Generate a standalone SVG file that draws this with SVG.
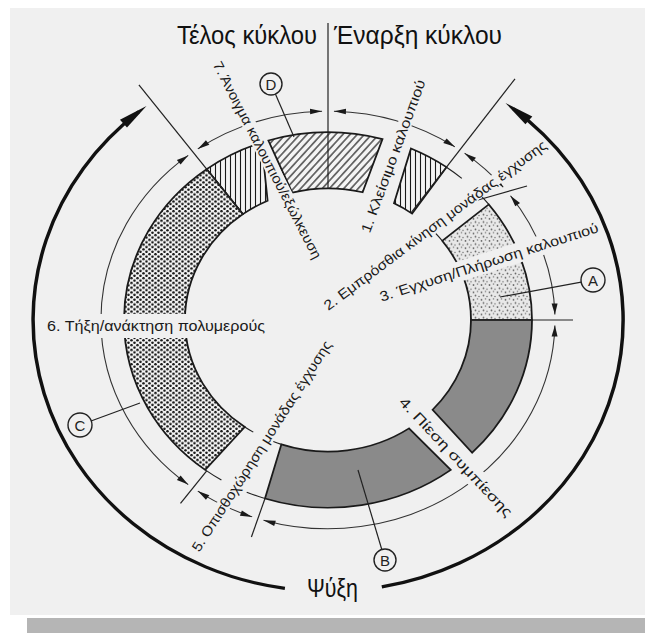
<svg xmlns="http://www.w3.org/2000/svg" width="645" height="633" viewBox="0 0 645 633">
<style>
.seg{stroke:#1a1a1a;stroke-width:1.8;stroke-linejoin:miter}
.ln{stroke:#222;fill:none;stroke-width:1.2}
.thin{stroke:#333;fill:none;stroke-width:1.1}
.thick{stroke:#111;fill:none;stroke-width:3.5}
.bg{fill:#f0f0f0}
.lbl{font-family:"Liberation Sans Narrow","Liberation Sans",Arial,sans-serif;font-size:14px;fill:#1a1a1a}
.ttl{font-family:"Liberation Sans Narrow","Liberation Sans",Arial,sans-serif;font-size:26px;fill:#111}
.circ{fill:#f0f0f0;stroke:#222;stroke-width:1.4}
.let{font-family:"Liberation Sans",Arial,sans-serif;font-size:15px;fill:#222;text-anchor:middle}
</style>
<defs>
<pattern id="diag" width="5.5" height="5.5" patternUnits="userSpaceOnUse" patternTransform="rotate(40)"><rect width="5.5" height="5.5" fill="#f4f4f4"/><line x1="2.75" y1="0" x2="2.75" y2="5.5" stroke="#1a1a1a" stroke-width="1.2"/></pattern>
<pattern id="vert" width="5" height="5" patternUnits="userSpaceOnUse"><rect width="5" height="5" fill="#f4f4f4"/><line x1="2.5" y1="0" x2="2.5" y2="5" stroke="#1a1a1a" stroke-width="1.1"/></pattern>
<pattern id="dkdots" width="6" height="5.2" patternUnits="userSpaceOnUse"><rect width="6" height="5.2" fill="#f4f4f4"/><circle cx="1.5" cy="1.3" r="1.35" fill="#1a1a1a"/><circle cx="4.5" cy="3.9" r="1.35" fill="#1a1a1a"/></pattern>
<pattern id="ltdots" width="8" height="8" patternUnits="userSpaceOnUse"><rect width="8" height="8" fill="#e8e8e8"/><circle cx="1.5" cy="2" r="0.9" fill="#666"/><circle cx="5.5" cy="1" r="0.8" fill="#777"/><circle cx="3.5" cy="5.5" r="0.9" fill="#666"/><circle cx="7" cy="6.5" r="0.8" fill="#777"/></pattern>
<marker id="bigArrow" markerUnits="userSpaceOnUse" markerWidth="40" markerHeight="16" refX="20" refY="0" orient="auto" overflow="visible"><path d="M0,-5.5 L30,0 L0,5.5 Z" fill="#111"/></marker>
<marker id="dimArrow" markerUnits="userSpaceOnUse" markerWidth="14" markerHeight="8" refX="12" refY="0" orient="auto-start-reverse" overflow="visible"><path d="M0,-3 L12,0 L0,3 Z" fill="#1a1a1a"/></marker>
</defs>

<rect width="645" height="633" fill="#ffffff"/>
<rect x="10" y="8" width="635" height="607" fill="#f0f0f0"/>
<rect x="27" y="618" width="618" height="15" fill="#b5b5b5"/>

<g id="ring" transform="translate(328,320) scale(1,0.92)">
  <g id="seg-7a"><path class="seg" fill="url(#vert)" d="M -121.3,-164.0 A 204 204 0 0 1 -66.4,-192.9 L -60.4,-129.6 A 143 143 0 0 0 -85.1,-115.0 Z"/></g>
  <g id="seg-D"><path class="seg" fill="url(#diag)" d="M -59.6,-195.1 A 204 204 0 0 1 54.5,-196.6 L 34.6,-138.8 A 143 143 0 0 0 -35.8,-138.4 Z"/></g>
  <g id="seg-1"><path class="seg" fill="url(#vert)" d="M 83.0,-186.4 A 204 204 0 0 1 118.5,-166.1 L 84.1,-115.7 A 143 143 0 0 0 66.0,-126.8 Z"/></g>
  <g id="seg-3"><path class="seg" fill="url(#ltdots)" d="M 160.8,-125.6 A 204 204 0 0 1 204,0 L 143,0 A 143 143 0 0 0 114.2,-86.1 Z"/></g>
  <g id="seg-4">
    <path class="seg" fill="#8a8a8a" d="M 204,0 A 204 204 0 0 1 144.2,144.2 L 104.6,97.5 A 143 143 0 0 0 143,0 Z"/>
    <path class="seg" fill="#8a8a8a" d="M 122.8,162.9 A 204 204 0 0 1 -63.0,194.0 L -46.6,135.2 A 143 143 0 0 0 81.0,117.8 Z"/>
  </g>
  <g id="seg-6"><path class="seg" fill="url(#dkdots)" d="M -122.8,162.9 A 204 204 0 0 1 -121.3,-164.0 L -85.1,-115.0 A 143 143 0 0 0 -83.2,116.3 Z"/></g>
</g>

<g id="connectors" transform="translate(328,320) scale(1,0.92)">
  <path class="ln" d="M -85.1,-115.0 L -189.1,-255.6"/>
  <path class="ln" d="M 0,-143 L 0,-322.8"/>
  <path class="ln" d="M 83.0,-116.4 L 187.0,-262.1"/>
  <path class="ln" d="M 150,-130.4 L 199,-145.7"/>
  <path class="ln" d="M 143,0 L 245,0"/>
  <path class="ln" d="M -63.0,194.0 L -76.6,235.9"/>
  <path class="ln" d="M -121.3,164.0 L -147.5,199.4"/>
  <path class="ln" d="M 118.5,-166.1 A 204 204 0 0 1 133.8,-154.0"/>
  <path class="ln" d="M 151.6,-136.5 A 204 204 0 0 1 160.8,-125.6"/>
  <path class="ln" d="M 107.9,-93.8 A 143 143 0 0 1 114.2,-86.1"/>
  <path class="ln" d="M -63.0,194.0 A 204 204 0 0 1 -81.3,187.1"/>
  <path class="ln" d="M -46.6,135.2 A 143 143 0 0 1 -54.7,132.1"/>
  <path class="ln" d="M -106.6,173.9 A 204 204 0 0 1 -122.8,162.9"/>
  <path class="ln" d="M -74.7,121.9 A 143 143 0 0 1 -83.2,116.3"/>
  <path class="thin" marker-start="url(#dimArrow)" marker-end="url(#dimArrow)" d="M -130.2,-186.0 A 227 227 0 0 1 -5.94,-226.9"/>
  <path class="thin" marker-start="url(#dimArrow)" marker-end="url(#dimArrow)" d="M 5.94,-226.9 A 227 227 0 0 1 126.9,-188.2"/>
  <path class="thin" marker-start="url(#dimArrow)" marker-end="url(#dimArrow)" d="M 136.6,-181.3 A 227 227 0 0 1 175.2,-144.4"/>
  <path class="thin" marker-start="url(#dimArrow)" marker-end="url(#dimArrow)" d="M 182.5,-135.0 A 227 227 0 0 1 226.9,-5.94"/>
  <path class="thin" marker-start="url(#dimArrow)" marker-end="url(#dimArrow)" d="M 226.9,5.94 A 227 227 0 0 1 -64.5,217.6"/>
  <path class="thin" marker-start="url(#dimArrow)" marker-end="url(#dimArrow)" d="M -75.8,214.0 A 227 227 0 0 1 -130.2,186.0"/>
  <path class="thin" marker-start="url(#dimArrow)" marker-end="url(#dimArrow)" d="M -139.8,178.9 A 227 227 0 0 1 -139.8,-178.9"/>
  <path class="thick" marker-end="url(#bigArrow)" d="M -43.1,291.8 A 295 295 0 0 1 -189.2,-226.3"/>
  <path class="thick" marker-end="url(#bigArrow)" d="M 53.8,290.1 A 295 295 0 0 0 185.3,-229.6"/>
</g>

<g id="label-7" transform="translate(267.5,160) rotate(62.7)"><rect class="bg" x="-112" y="-7" width="224" height="14"/><text class="lbl" x="-110" y="0" dominant-baseline="central" textLength="220" lengthAdjust="spacingAndGlyphs">7. Άνοιγμα καλουπιού/εξώλκευση</text></g>
<g id="label-1" transform="translate(393,156) rotate(-69.8)"><rect class="bg" x="-83" y="-7" width="166" height="14"/><text class="lbl" x="-81" y="0" dominant-baseline="central" textLength="162" lengthAdjust="spacingAndGlyphs">1. Κλείσιμο καλουπιού</text></g>
<g id="label-2" transform="translate(435,225) rotate(-36.7)"><rect class="bg" x="-139" y="-6" width="278" height="12"/><text class="lbl" x="-137" y="0" dominant-baseline="central" textLength="274" lengthAdjust="spacingAndGlyphs">2. Εμπρόσθια κίνηση μονάδας έγχυσης</text></g>
<g id="label-3" transform="translate(489,262) rotate(-17.8)"><rect class="bg" x="-116" y="-10" width="232" height="20"/><text class="lbl" x="-114.5" y="0" dominant-baseline="central" textLength="229" lengthAdjust="spacingAndGlyphs">3. Έγχυση/Πλήρωση καλουπιού</text></g>
<g id="label-4" transform="translate(456,457) rotate(46.8)"><rect class="bg" x="-81" y="-10" width="162" height="20"/><text class="lbl" x="-79" y="0" dominant-baseline="central" textLength="158" lengthAdjust="spacingAndGlyphs">4. Πίεση συμπίεσης</text></g>
<g id="label-5" transform="translate(261.5,446) rotate(-57.4)"><rect class="bg" x="-125" y="-7" width="250" height="14"/><text class="lbl" x="-123.5" y="0" dominant-baseline="central" textLength="247" lengthAdjust="spacingAndGlyphs">5. Οπισθοχώρηση μονάδας έγχυσης</text></g>
<g id="label-6" transform="translate(156,326)"><rect class="bg" x="-111" y="-12" width="222" height="24"/><text class="lbl" x="-109" y="0" dominant-baseline="central" textLength="218" lengthAdjust="spacingAndGlyphs">6. Τήξη/ανάκτηση πολυμερούς</text></g>

<g id="callout-D"><line class="ln" x1="275.4" y1="94.1" x2="294" y2="137"/><circle class="circ" cx="271" cy="84" r="11"/><text class="let" x="271" y="89.5">D</text></g>
<g id="callout-A"><line class="ln" x1="581.2" y1="282.2" x2="500" y2="297"/><circle class="circ" cx="593" cy="280" r="12"/><text class="let" x="593" y="285.5">A</text></g>
<g id="callout-B"><line class="ln" x1="381.8" y1="549.5" x2="358" y2="470"/><circle class="circ" cx="385" cy="560" r="11"/><text class="let" x="385" y="565.5">B</text></g>
<g id="callout-C"><line class="ln" x1="90.3" y1="421.2" x2="140" y2="403"/><circle class="circ" cx="80" cy="425" r="12"/><text class="let" x="80" y="430.5">C</text></g>

<g id="titles">
<text class="ttl" x="177" y="44" textLength="140" lengthAdjust="spacingAndGlyphs">Τέλος κύκλου</text>
<text class="ttl" x="334" y="44" textLength="168" lengthAdjust="spacingAndGlyphs">Έναρξη κύκλου</text>
<text class="ttl" x="307" y="597" font-size="24" textLength="51" lengthAdjust="spacingAndGlyphs">Ψύξη</text>
</g>
</svg>
